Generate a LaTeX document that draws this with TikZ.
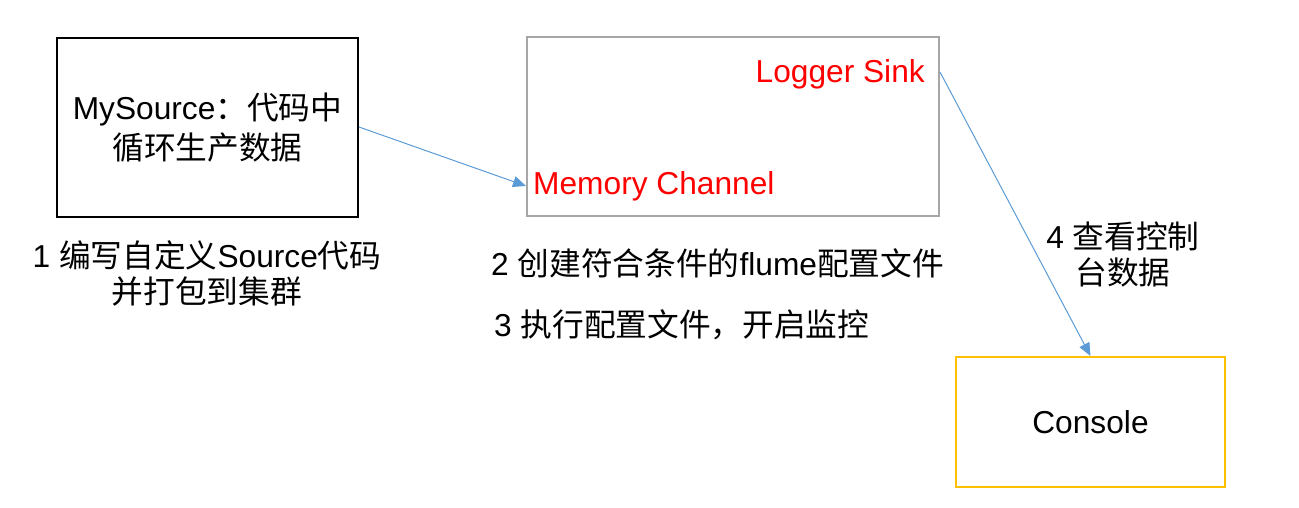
\documentclass[tikz,border=0pt]{standalone}
\usepackage{fontspec}
\setmainfont{Liberation Sans}
\newfontfamily\cjk{Noto Sans CJK SC}
\usetikzlibrary{arrows.meta}
\definecolor{arrowblue}{HTML}{5B9BD5}
\definecolor{boxgray}{HTML}{A6A6A6}
\definecolor{boxyellow}{HTML}{FFC000}
\definecolor{textred}{HTML}{FF0000}
\tikzset{
  bigfont/.style={font=\fontsize{31.7}{40}\selectfont},
  srcbox/.style={draw=black, line width=2pt, minimum width=301pt, minimum height=179pt, inner sep=0pt, align=center, bigfont},
  flumebox/.style={draw=boxgray, line width=2pt, minimum width=412pt, minimum height=179pt, inner sep=0pt},
  consbox/.style={draw=boxyellow, line width=2pt, minimum width=269pt, minimum height=130pt, inner sep=0pt, bigfont},
  redlabel/.style={text=textred, inner sep=0pt, bigfont},
  caption/.style={inner sep=0pt, align=center, font=\fontsize{31.7}{36}\selectfont},
  flow/.style={draw=arrowblue, line width=1pt, -{Triangle[length=13pt,width=11pt]}}
}
\begin{document}
\begin{tikzpicture}[x=1pt,y=-1pt]
\useasboundingbox (0,0) rectangle (1299,508);
\node[srcbox] (src) at (207.5,127.5) {MySource{\cjk ：代码中}\\{\cjk 循环生产数据}};
\node[flumebox] (flume) at (733,126.5) {};
\node[redlabel, anchor=base east] (sink) at (925,83) {Logger Sink};
\node[redlabel, anchor=base west] (mem) at (533,194) {Memory Channel};
\node[consbox] (console) at (1090.5,422) {Console};
\node[caption] (lab1) at (207,273) {1 {\cjk 编写自定义}Source{\cjk 代码}\\{\cjk 并打包到集群}};
\node[caption, anchor=west] (lab2) at (491,263) {2 {\cjk 创建符合条件的}flume{\cjk 配置文件}};
\node[caption, anchor=west] (lab3) at (494,325) {3 {\cjk 执行配置文件，开启监控}};
\node[caption] (lab4) at (1123,254) {4 {\cjk 查看控制}\\{\cjk 台数据}};
\coordinate (srcout) at (src.east |- 0,127);
\coordinate (memin) at (flume.west |- 0,186);
\coordinate (sinkout) at (flume.east |- 0,72);
\draw[flow] (srcout) -- (memin);
\draw[flow] (sinkout) -- (console.north);
\end{tikzpicture}
\end{document}
